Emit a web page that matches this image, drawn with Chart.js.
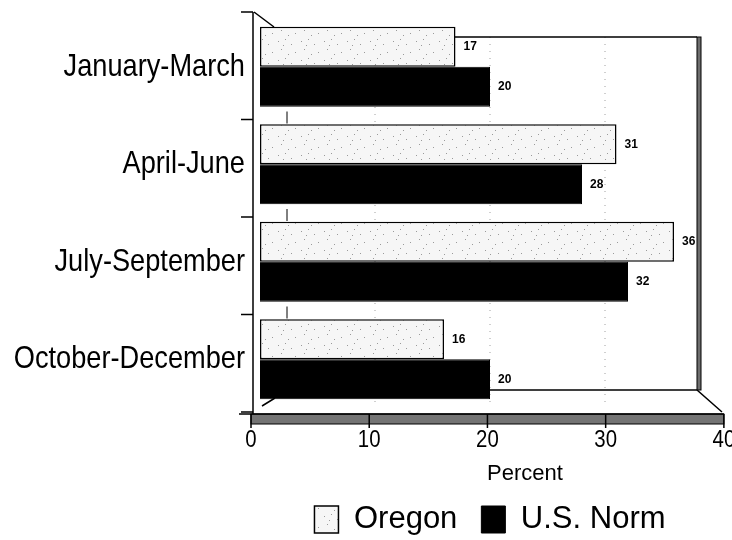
<!DOCTYPE html>
<html>
<head>
<meta charset="utf-8">
<script src="https://cdn.jsdelivr.net/npm/chart.js@4/dist/chart.umd.min.js"></script>
<style>
  html, body { margin: 0; padding: 0; background: #fff; }
  #wrap { width: 732px; height: 540px; }
</style>
</head>
<body>
<div id="wrap"><canvas id="myChart" width="732" height="540"></canvas></div>
<script>
const quarters = ["January-March", "April-June", "July-September", "October-December"];
const oregon = [17, 31, 36, 16];
const usNorm = [20, 28, 32, 20];
const percentTicks = [0, 10, 20, 30, 40];
const xTitle = "Percent";

const FONT = "'Liberation Sans', Arial, sans-serif";
const NARROW = 0.85; // horizontal squeeze for the condensed labels

// light stippled fill for the Oregon bars
function stipple() {
    const c = document.createElement("canvas");
    c.width = 23; c.height = 19;
    const g = c.getContext("2d");
    g.fillStyle = "#f6f6f6";
    g.fillRect(0, 0, c.width, c.height);
    g.fillStyle = "#9a9a9a";
    [[2, 3], [9, 1], [15, 6], [5, 11], [19, 14], [12, 16], [7, 7]].forEach(p => g.fillRect(p[0], p[1], 1, 1));
    return g.createPattern(c, "repeat");
}
const oregonFill = stipple();

// the percent axis sits on the front edge of the floor, a little wider than the back
function frontX(chart, v) {
    const a = chart.chartArea;
    return a.left - 9 + (chart.scales.x.getPixelForValue(v) - a.left) * 1.028;
}

// back wall, floor edges, both axes and their labels
const framePlugin = {
    id: "frame",
    beforeDatasetsDraw(chart) {
        const { ctx, chartArea: a, scales } = chart;
        const back = { l: a.left + 27, t: a.top + 19, r: a.right - 23, b: a.bottom - 18 };
        ctx.save();
        // dotted grid on the back wall
        ctx.strokeStyle = "#a0a0a0";
        ctx.lineWidth = 1;
        ctx.setLineDash([1, 6]);
        [10, 20, 30].forEach(v => {
            const x = scales.x.getPixelForValue(v);
            ctx.beginPath();
            ctx.moveTo(x, back.t);
            ctx.lineTo(x, a.bottom);
            ctx.stroke();
        });
        ctx.setLineDash([]);
        // back wall outline
        ctx.strokeStyle = "#000";
        ctx.lineWidth = 1.5;
        ctx.beginPath();
        ctx.moveTo(back.l, back.t);
        ctx.lineTo(back.r, back.t);
        ctx.moveTo(back.l, back.b);
        ctx.lineTo(back.r, back.b);
        ctx.lineTo(a.right + 2, a.bottom + 4);
        ctx.moveTo(a.left - 6, a.top - 6);
        ctx.lineTo(a.left + 14, a.top + 9);
        ctx.moveTo(a.left + 2, a.bottom - 2);
        ctx.lineTo(back.l - 12, back.b + 8);
        ctx.stroke();
        // right wall, hatched
        ctx.fillStyle = "#6e6e6e";
        ctx.fillRect(back.r, back.t, 4, back.b - back.t);
        ctx.strokeStyle = "#000";
        ctx.lineWidth = 1;
        ctx.strokeRect(back.r, back.t, 4, back.b - back.t);
        // left wall stubs between the bar groups
        ctx.beginPath();
        for (let i = 1; i < quarters.length; i++) {
            const y = a.top + (a.bottom - a.top) * i / quarters.length;
            ctx.moveTo(back.l, y - 4);
            ctx.lineTo(back.l, y + 8);
        }
        ctx.stroke();
        ctx.restore();
    },
    afterDatasetsDraw(chart) {
        const { ctx, chartArea: a, scales } = chart;
        const axisX = a.left - 7;
        ctx.save();
        // left axis with ticks at the group boundaries
        ctx.strokeStyle = "#000";
        ctx.lineWidth = 1.5;
        ctx.beginPath();
        ctx.moveTo(axisX, a.top - 6);
        ctx.lineTo(axisX, a.bottom + 6);
        for (let i = 0; i <= quarters.length; i++) {
            const y = i === 0 ? a.top - 6 : a.top + (a.bottom - a.top) * i / quarters.length + 4;
            ctx.moveTo(axisX - 12, y);
            ctx.lineTo(axisX, y);
        }
        ctx.stroke();
        // floor band under the bars, with the percent ticks
        const y0 = a.bottom + 6;
        const x0 = frontX(chart, 0), x1 = frontX(chart, 40);
        ctx.fillStyle = "#747474";
        ctx.fillRect(x0, y0, x1 - x0, 10);
        ctx.strokeStyle = "#000";
        ctx.lineWidth = 1;
        ctx.strokeRect(x0, y0, x1 - x0, 10);
        ctx.lineWidth = 1.5;
        ctx.beginPath();
        ctx.moveTo(axisX - 14, y0);
        ctx.lineTo(x1, y0);
        percentTicks.forEach(v => {
            const x = frontX(chart, v);
            ctx.moveTo(x, y0);
            ctx.lineTo(x, y0 + 14);
        });
        ctx.stroke();
        ctx.fillStyle = "#000";
        ctx.textAlign = "center";
        ctx.textBaseline = "middle";
        ctx.font = "24px " + FONT;
        percentTicks.forEach(v => {
            ctx.save();
            ctx.translate(frontX(chart, v), y0 + 26);
            ctx.scale(0.85, 1);
            ctx.fillText(String(v), 0, 0);
            ctx.restore();
        });
        // axis title
        ctx.font = "22px " + FONT;
        ctx.fillText(xTitle, 525, 474);
        // category labels, condensed
        ctx.font = "32px " + FONT;
        ctx.textAlign = "right";
        quarters.forEach((q, i) => {
            const y = scales.y.getPixelForTick(i);
            ctx.save();
            ctx.translate(axisX - 8, y);
            ctx.scale(NARROW, 1);
            ctx.fillText(q, 0, 0);
            ctx.restore();
        });
        // value labels at the bar ends
        ctx.font = "bold 12px " + FONT;
        ctx.textAlign = "left";
        chart.data.datasets.forEach((ds, di) => {
            chart.getDatasetMeta(di).data.forEach((bar, i) => {
                ctx.fillText(ds.data[i], bar.x + 8, bar.y);
            });
        });
        ctx.restore();
    }
};

const ctx = document.getElementById("myChart").getContext("2d");
new Chart(ctx, {
    type: "bar",
    data: {
        labels: quarters,
        datasets: [
            {
                label: "Oregon",
                data: oregon,
                backgroundColor: oregonFill,
                borderColor: "#000",
                borderWidth: 1.5,
                borderSkipped: false,
                categoryPercentage: 0.82,
                barPercentage: 1.0
            },
            {
                label: "U.S. Norm",
                data: usNorm,
                backgroundColor: "#000",
                borderColor: "#000",
                borderWidth: 1,
                categoryPercentage: 0.82,
                barPercentage: 1.0
            }
        ]
    },
    options: {
        indexAxis: "y",
        responsive: false,
        animation: false,
        layout: { padding: { top: 18, right: 12, left: 0, bottom: 0 } },
        scales: {
            x: {
                min: 0,
                max: 40,
                grid: { display: false },
                border: { display: false },
                ticks: { display: false },
                afterFit: scale => { scale.height = 72; }
            },
            y: {
                grid: { display: false },
                border: { display: false },
                ticks: { display: false },
                afterFit: scale => { scale.width = 260; }
            }
        },
        plugins: {
            legend: {
                position: "bottom",
                fullSize: false,
                maxHeight: 60,
                labels: {
                    color: "#000",
                    font: { family: FONT, size: 31 },
                    boxWidth: 24,
                    boxHeight: 27,
                    padding: 24
                }
            },
            tooltip: { enabled: false }
        }
    },
    plugins: [framePlugin]
});
</script>
</body>
</html>
